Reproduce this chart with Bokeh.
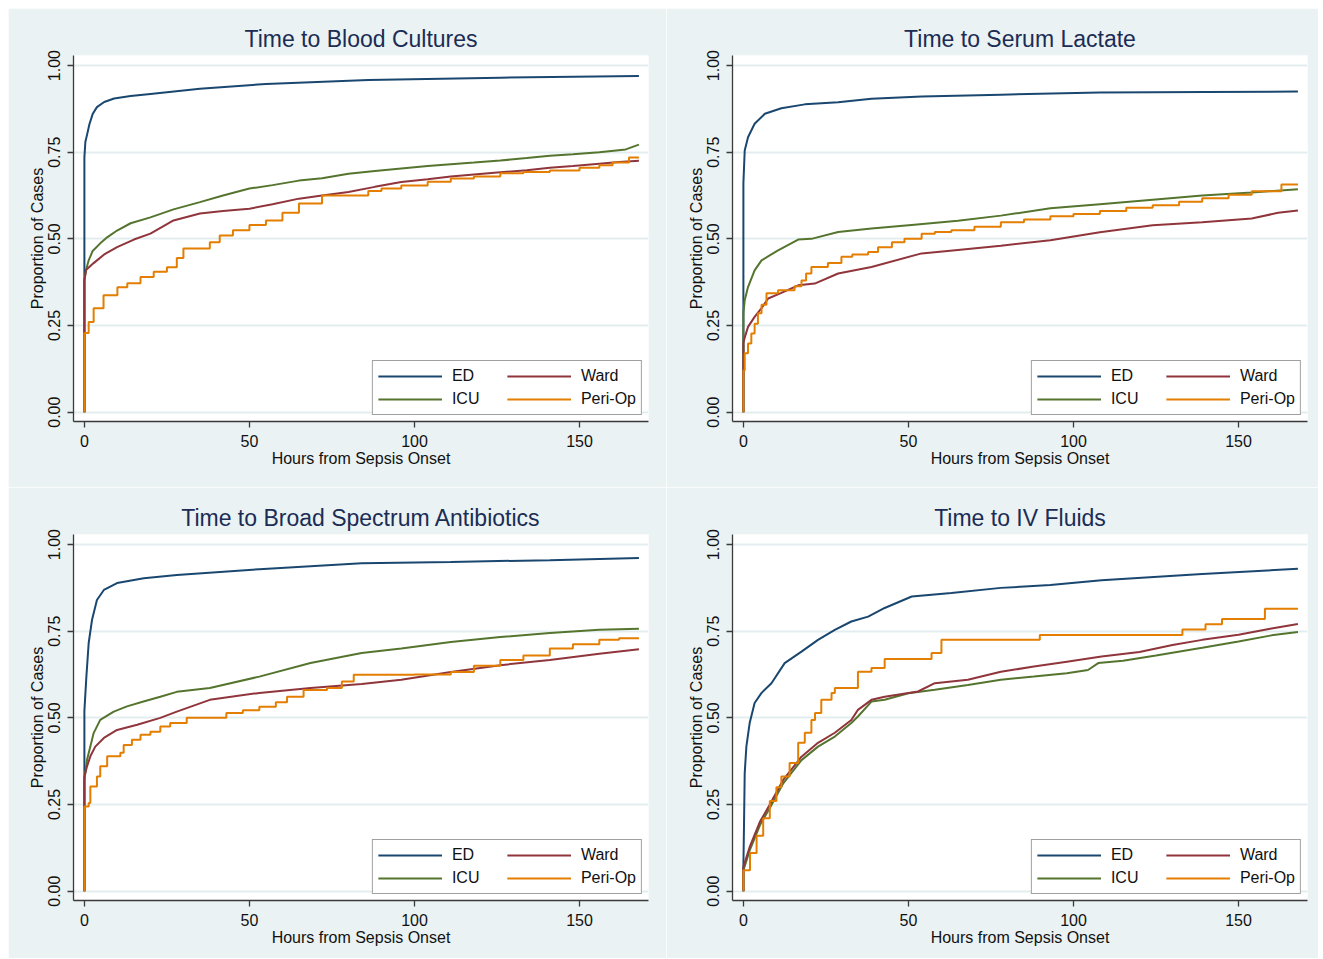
from bokeh.plotting import figure
from bokeh.layouts import column, row
from bokeh.models import (Legend, LegendItem, FixedTicker, NumeralTickFormatter, Range1d)
from bokeh.embed import file_html
from bokeh.resources import INLINE

# ---------------- data (hours from onset, cumulative proportion) ----------------
titles = ["Time to Blood Cultures", "Time to Serum Lactate",
          "Time to Broad Spectrum Antibiotics", "Time to IV Fluids"]
groups = ["ED", "ICU", "Ward", "Peri-Op"]
x_ticks = [0, 50, 100, 150]
y_ticks = [0, 0.25, 0.5, 0.75, 1.0]

# Blood cultures
bc_ed_h = [0, 0, 0.3, 0.8, 1.5, 2.5, 3.8, 6, 9, 14, 20, 35, 55, 86, 126, 168]
bc_ed_v = [0, 0.735, 0.78, 0.80, 0.83, 0.86, 0.88, 0.895, 0.905, 0.912, 0.918, 0.933, 0.947, 0.958, 0.965, 0.97]
bc_icu_h = [0, 0, 0.5, 1.3, 2.5, 4.8, 7, 9.9, 14, 20, 27, 35, 42, 50, 57, 65, 72, 80, 88, 96, 104, 111, 118, 126, 134, 141, 148, 156, 164, 168]
bc_icu_v = [0, 0.38, 0.41, 0.438, 0.465, 0.487, 0.505, 0.524, 0.545, 0.562, 0.585, 0.606, 0.625, 0.645, 0.655, 0.668, 0.675, 0.688, 0.696, 0.703, 0.71, 0.715, 0.72, 0.726, 0.733, 0.74, 0.744, 0.75, 0.758, 0.772]
bc_ward_h = [0, 0, 0.5, 2.8, 6, 9.9, 15, 20, 27, 35, 42, 50, 57, 65, 72, 80, 88, 96, 104, 111, 118, 126, 134, 141, 148, 156, 162, 168]
bc_ward_v = [0, 0.38, 0.41, 0.43, 0.455, 0.476, 0.498, 0.515, 0.553, 0.573, 0.58, 0.587, 0.60, 0.616, 0.625, 0.635, 0.65, 0.664, 0.672, 0.68, 0.686, 0.692, 0.698, 0.705, 0.71, 0.717, 0.722, 0.725]
bc_peri_h = [0, 0, 1.3, 2.8, 5.8, 10, 13, 17, 21, 25, 28, 30, 38, 41, 45, 50, 55, 60, 65, 72, 86, 90, 96, 104, 111, 118, 126, 133, 141, 150, 156, 160, 165, 168]
bc_peri_v = [0, 0.228, 0.26, 0.30, 0.337, 0.36, 0.372, 0.39, 0.405, 0.418, 0.445, 0.472, 0.49, 0.51, 0.525, 0.54, 0.553, 0.575, 0.602, 0.625, 0.638, 0.645, 0.654, 0.665, 0.674, 0.68, 0.689, 0.693, 0.697, 0.705, 0.712, 0.72, 0.735, 0.735]

# Serum lactate
sl_ed_h = [0, 0, 0.4, 1.4, 3.4, 6.5, 11.5, 18.6, 28.7, 38.8, 54, 78, 108, 140, 168]
sl_ed_v = [0, 0.66, 0.755, 0.793, 0.832, 0.861, 0.877, 0.888, 0.894, 0.904, 0.911, 0.916, 0.922, 0.924, 0.925]
sl_icu_h = [0, 0, 0.4, 1.4, 3.4, 5.5, 10.5, 16.6, 20.6, 28.7, 38.8, 51.8, 65, 78, 93, 108, 124, 139, 154, 168]
sl_icu_v = [0, 0.285, 0.323, 0.361, 0.409, 0.438, 0.467, 0.498, 0.50, 0.52, 0.53, 0.541, 0.552, 0.567, 0.588, 0.60, 0.613, 0.625, 0.634, 0.643]
sl_ward_h = [0, 0, 0.4, 1.4, 3.4, 5.5, 7.5, 11.5, 16.6, 21.6, 28.7, 38.8, 54, 65, 78, 93, 108, 124, 139, 154, 162, 168]
sl_ward_v = [0, 0.2, 0.215, 0.246, 0.275, 0.30, 0.328, 0.344, 0.366, 0.371, 0.40, 0.419, 0.458, 0.468, 0.48, 0.496, 0.519, 0.539, 0.548, 0.559, 0.575, 0.582]
sl_peri_h = [0, 0, 0.4, 1.4, 2.4, 3.4, 4.4, 5.5, 7, 10.5, 15.5, 17.6, 19, 20.6, 25.6, 29.7, 33, 37.8, 40.8, 45, 48.8, 54, 58, 63, 70, 78, 85, 93, 100, 108, 116, 124, 132, 139, 147, 154, 163, 168]
sl_peri_v = [0, 0.12, 0.17, 0.198, 0.227, 0.255, 0.285, 0.31, 0.343, 0.352, 0.363, 0.38, 0.40, 0.419, 0.43, 0.448, 0.455, 0.462, 0.476, 0.49, 0.50, 0.515, 0.52, 0.525, 0.535, 0.548, 0.556, 0.565, 0.572, 0.58, 0.59, 0.597, 0.607, 0.617, 0.627, 0.637, 0.657, 0.657]

# Broad spectrum antibiotics
ab_ed_h = [0, 0, 0.6, 1.3, 2.3, 3.8, 5.9, 9.9, 18, 28, 53, 84, 111, 141, 168]
ab_ed_v = [0, 0.52, 0.619, 0.716, 0.782, 0.84, 0.869, 0.889, 0.903, 0.912, 0.929, 0.946, 0.95, 0.955, 0.961]
ab_icu_h = [0, 0, 0.8, 1.8, 2.8, 4.8, 8.9, 12.9, 17.9, 23, 28, 38, 53, 68.5, 84, 96, 111, 126, 141, 156, 168]
ab_icu_v = [0, 0.32, 0.379, 0.417, 0.456, 0.494, 0.518, 0.533, 0.547, 0.561, 0.575, 0.586, 0.619, 0.658, 0.687, 0.70, 0.719, 0.733, 0.745, 0.754, 0.757]
ab_ward_h = [0, 0, 0.8, 1.8, 3.3, 5.9, 9.9, 16, 23, 28, 38, 53, 68.5, 84, 96, 111, 126, 141, 156, 168]
ab_ward_v = [0, 0.33, 0.36, 0.389, 0.417, 0.442, 0.465, 0.48, 0.50, 0.518, 0.552, 0.572, 0.586, 0.598, 0.61, 0.632, 0.652, 0.667, 0.685, 0.698]
ab_peri_h = [0, 0, 1.3, 1.8, 3.8, 4.8, 6.9, 10.9, 11.9, 14.4, 17, 20, 23, 26, 31, 38, 43, 48, 53, 58, 61.4, 66.4, 73.5, 78, 81.6, 90, 100, 111, 118, 126, 133, 141, 148, 156, 162, 168]
ab_peri_v = [0, 0.244, 0.254, 0.302, 0.331, 0.36, 0.389, 0.399, 0.422, 0.437, 0.451, 0.46, 0.475, 0.485, 0.50, 0.50, 0.514, 0.522, 0.532, 0.545, 0.561, 0.58, 0.586, 0.605, 0.624, 0.624, 0.625, 0.632, 0.65, 0.667, 0.68, 0.70, 0.712, 0.725, 0.73, 0.73]

# IV fluids
iv_ed_h = [0, 0, 0.2, 0.4, 0.9, 1.9, 3.4, 5.5, 8.5, 12.5, 17.6, 22.6, 27.7, 32.7, 37.8, 42.8, 51, 63, 78, 93, 108.5, 139, 168]
iv_ed_v = [0, 0.07, 0.2, 0.341, 0.417, 0.485, 0.543, 0.572, 0.60, 0.658, 0.691, 0.725, 0.754, 0.778, 0.792, 0.817, 0.85, 0.86, 0.875, 0.883, 0.897, 0.915, 0.93]
iv_icu_h = [0, 0, 2, 5, 8, 12, 17.6, 22.6, 27.7, 32.7, 34.7, 38.8, 42.8, 50, 58, 68, 78, 88, 98, 104.4, 107.5, 115, 125, 139, 150, 160, 168]
iv_icu_v = [0, 0.06, 0.12, 0.19, 0.24, 0.31, 0.378, 0.417, 0.446, 0.485, 0.504, 0.547, 0.552, 0.571, 0.581, 0.595, 0.61, 0.619, 0.629, 0.638, 0.658, 0.665, 0.68, 0.702, 0.72, 0.738, 0.748]
iv_ward_h = [0, 0, 2, 5, 8, 12, 17.6, 22.6, 27.7, 32.7, 34.7, 38.8, 42.8, 52.9, 58, 68, 78, 88, 98, 108.5, 120, 130, 139, 150, 160, 168]
iv_ward_v = [0, 0.07, 0.13, 0.20, 0.25, 0.32, 0.388, 0.428, 0.457, 0.494, 0.523, 0.552, 0.561, 0.576, 0.60, 0.61, 0.633, 0.648, 0.662, 0.677, 0.69, 0.71, 0.725, 0.74, 0.758, 0.771]
iv_peri_h = [0, 0, 2, 4, 6, 8, 10, 11.5, 14, 16.6, 18.6, 20.6, 21.7, 23.6, 26.7, 27.7, 34.7, 38.8, 42.8, 57, 60, 89.8, 133, 140, 145, 158, 168]
iv_peri_v = [0, 0.06, 0.11, 0.16, 0.21, 0.26, 0.30, 0.331, 0.37, 0.428, 0.457, 0.494, 0.514, 0.552, 0.572, 0.586, 0.633, 0.644, 0.67, 0.687, 0.725, 0.739, 0.755, 0.77, 0.785, 0.815, 0.815]

panels = [
    (bc_ed_h, bc_ed_v, bc_icu_h, bc_icu_v, bc_ward_h, bc_ward_v, bc_peri_h, bc_peri_v),
    (sl_ed_h, sl_ed_v, sl_icu_h, sl_icu_v, sl_ward_h, sl_ward_v, sl_peri_h, sl_peri_v),
    (ab_ed_h, ab_ed_v, ab_icu_h, ab_icu_v, ab_ward_h, ab_ward_v, ab_peri_h, ab_peri_v),
    (iv_ed_h, iv_ed_v, iv_icu_h, iv_icu_v, iv_ward_h, iv_ward_v, iv_peri_h, iv_peri_v),
]

# ---------------- styling ----------------
FONT = "Liberation Sans"
BG = "#EAF2F3"
COLORS = {"ED": "#1A476F", "ICU": "#55752F", "Ward": "#90353B", "Peri-Op": "#E37E00"}
AXIS_COLOR = "#3A3A3A"

# (width, height, left, right, top, bottom)
geom = [
    (658, 479, 65, 18, 47, 66),
    (652, 479, 66, 11, 47, 66),
    (658, 471, 65, 18, 47, 58),
    (652, 471, 66, 11, 47, 58),
]


def make_panel(i):
    w, h, bl, br, bt, bb = geom[i]
    ed_h, ed_v, icu_h, icu_v, ward_h, ward_v, peri_h, peri_v = panels[i]
    p = figure(width=w, height=h, output_backend="svg", toolbar_location=None,
               x_range=Range1d(-3.3, 170.9), y_range=Range1d(-0.027, 1.029),
               min_border_left=bl, min_border_right=br,
               min_border_top=bt, min_border_bottom=bb)
    p.border_fill_color = BG
    p.background_fill_color = "white"
    p.outline_line_color = None

    p.title.text = titles[i]
    p.title.align = "center"
    p.title.text_font = FONT
    p.title.text_font_size = "23px"
    p.title.text_font_style = "normal"
    p.title.text_color = "#1B2C55"
    p.title.standoff = 7

    # lines
    r_ed = p.line(ed_h, ed_v, line_color=COLORS["ED"], line_width=2)
    r_icu = p.line(icu_h, icu_v, line_color=COLORS["ICU"], line_width=2)
    r_ward = p.line(ward_h, ward_v, line_color=COLORS["Ward"], line_width=2)
    r_peri = p.step(peri_h, peri_v, mode="after", line_color=COLORS["Peri-Op"], line_width=2)

    # axes
    p.xaxis.ticker = FixedTicker(ticks=x_ticks)
    p.yaxis.ticker = FixedTicker(ticks=y_ticks)
    p.yaxis.formatter = NumeralTickFormatter(format="0.00")
    p.yaxis.major_label_orientation = "vertical"
    for ax in (p.xaxis[0], p.yaxis[0]):
        ax.axis_line_color = AXIS_COLOR
        ax.axis_line_width = 1.3
        ax.major_tick_line_color = AXIS_COLOR
        ax.major_tick_line_width = 1.3
        ax.major_tick_in = 0
        ax.major_tick_out = 6
        ax.minor_tick_line_color = None
        ax.major_label_text_font = FONT
        ax.major_label_text_font_size = "16px"
        ax.major_label_text_color = "#111111"
        ax.axis_label_text_font = FONT
        ax.axis_label_text_font_size = "16px"
        ax.axis_label_text_font_style = "normal"
        ax.axis_label_text_color = "#111111"
        ax.major_label_standoff = 7
        ax.axis_label_standoff = 0
    p.xaxis.axis_label = "Hours from Sepsis Onset"
    p.yaxis.axis_label = "Proportion of Cases"

    p.xgrid.grid_line_color = None
    p.ygrid.grid_line_color = "#E3EDEF"
    p.ygrid.grid_line_width = 2

    legend = Legend(items=[
        LegendItem(label="ED", renderers=[r_ed]),
        LegendItem(label="Ward", renderers=[r_ward]),
        LegendItem(label="ICU", renderers=[r_icu]),
        LegendItem(label="Peri-Op", renderers=[r_peri]),
    ], location="bottom_right", orientation="horizontal", ncols=2)
    legend.label_text_font = FONT
    legend.label_text_font_size = "16px"
    legend.label_text_color = "#111111"
    legend.glyph_width = 64
    legend.glyph_height = 20
    legend.label_standoff = 10
    legend.label_width = 52
    legend.spacing = 3
    legend.padding = 5
    legend.margin = 6
    legend.border_line_color = "#444444"
    legend.border_line_width = 1
    legend.background_fill_color = "white"
    legend.background_fill_alpha = 1
    p.add_layout(legend)
    return p


figs = [make_panel(i) for i in range(4)]
layout = column(row(figs[0], figs[1]), row(figs[2], figs[3]), margin=(8, 0, 0, 8))

open("out.html", "w").write(file_html(layout, INLINE))
